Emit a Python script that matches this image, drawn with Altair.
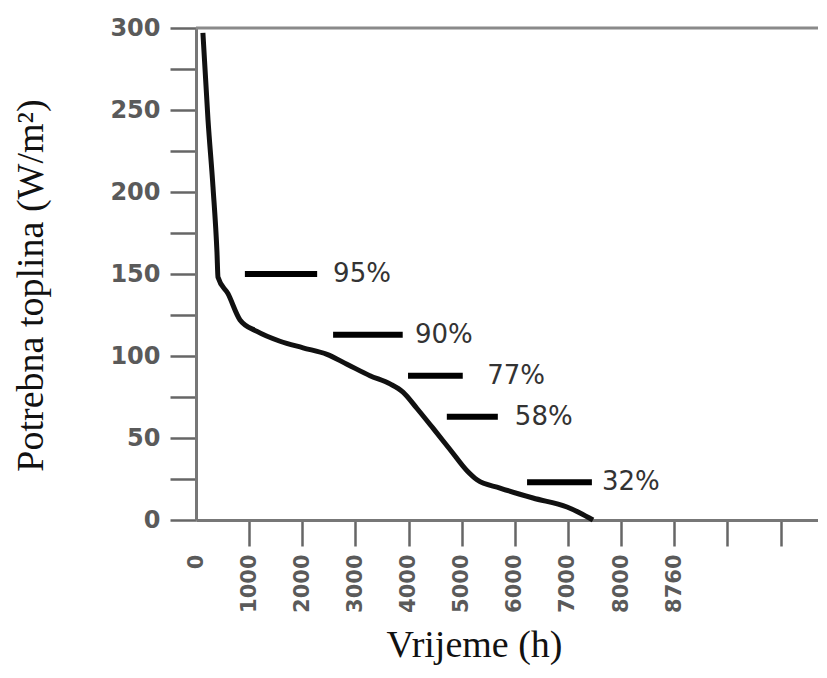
import altair as alt
import pandas as pd

# Load-duration curve (hours vs required heat, W/m2)
hours = [130, 226, 320, 395, 414, 602, 828, 1148, 1581, 2014, 2465, 2841,
         3274, 3651, 3895, 4159, 4460, 4780, 5100, 5288, 5721, 6342, 6982,
         7226, 7471]
heat = [297, 244, 203, 163, 148, 138, 122, 115, 109, 105, 101, 95,
        88, 83, 78, 68, 56, 43, 30, 24.5, 19.5, 13.4, 7.9, 4.3, 0]

# Percentage markers
pct_labels = ["95%", "90%", "77%", "58%", "32%"]
bar_y = [150, 113, 88, 63, 23]
bar_start = [920, 2580, 3990, 4720, 6230]
bar_end = [2280, 3890, 5020, 5680, 7450]
label_x = [2580, 4120, 5480, 6000, 7640]

# Axis ticks
x_ticks = [0, 1000, 2000, 3000, 4000, 5000, 6000, 7000, 8000, 9000, 10000, 11000]
x_tick_labels = ["0", "1000", "2000", "3000", "4000", "5000", "6000", "7000",
                 "8000", "8760", "", ""]
y_ticks = [0, 25, 50, 75, 100, 125, 150, 175, 200, 225, 250, 275, 300]
y_top = 300

W, H = 622, 492
X_MAX = 11705

curve_df = pd.DataFrame({"h": hours, "q": heat})
bars_df = pd.DataFrame({"h": bar_start, "h2": bar_end, "q": bar_y,
                        "lx": label_x, "label": pct_labels})
top_df = pd.DataFrame({"q": [y_top]})

xscale = alt.Scale(domain=[0, X_MAX], nice=False, zero=False)
yscale = alt.Scale(domain=[0, 300], nice=False)

lab_arr = "[" + ",".join("'" + s + "'" for s in x_tick_labels) + "]"
xaxis = alt.Axis(
    values=x_ticks, format="d",
    labelExpr=lab_arr + "[round(datum.value/1000)]",
    labelAngle=270, labelFont="DejaVu Sans", labelFontSize=21,
    labelFontWeight="bold", labelColor="#5a5a5a",
    tickSize=26, tickWidth=2.5,
    tickColor={"condition": {"test": "datum.value === 0", "value": "rgba(0,0,0,0)"},
               "value": "#666666"},
    labelPadding=8, grid=False,
    title="Vrijeme (h)", titleFont="Liberation Serif", titleFontSize=38,
    titleFontWeight="normal", titleColor="#111111",
    titleX=278, titleY=136, titleBaseline="alphabetic", titleAlign="center",
)
yaxis = alt.Axis(
    values=y_ticks,
    labelExpr="datum.value % 50 == 0 ? datum.label : ''",
    labelFont="DejaVu Sans", labelFontSize=24, labelFontWeight="bold",
    labelColor="#5a5a5a", tickSize=26, tickWidth=2.5, tickColor="#666666",
    labelPadding=10, grid=False,
    title="Potrebna toplina (W/m²)", titleFont="Liberation Serif",
    titleFontSize=38, titleFontWeight="normal", titleColor="#111111",
    titleAngle=270, titleX=-146, titleY=257, titleBaseline="bottom",
    titleAlign="center",
)


def X(field):
    return alt.X(field, type="quantitative", scale=xscale, axis=xaxis)


def Y(field):
    return alt.Y(field, type="quantitative", scale=yscale, axis=yaxis)


curve = alt.Chart(curve_df).mark_line(
    color="#111111", strokeWidth=5, interpolate="monotone", strokeJoin="round"
).encode(x=X("h"), y=Y("q"))

bars = alt.Chart(bars_df).mark_rule(color="#000000", strokeWidth=6).encode(
    x=X("h"), x2="h2", y=Y("q")
)

labels = alt.Chart(bars_df).mark_text(
    font="DejaVu Sans", fontSize=26, color="#333333", align="left",
    baseline="middle"
).encode(x=X("lx"), y=Y("q"), text="label")

top_border = alt.Chart(top_df).mark_rule(color="#8a8a8a", strokeWidth=3).encode(
    x=alt.value(0), x2=alt.value(W), y=Y("q")
)

chart = alt.layer(top_border, curve, bars, labels).properties(
    width=W, height=H,
    autosize=alt.AutoSizeParams(type="none"),
    padding={"left": 188, "top": 20, "right": 0, "bottom": 145},
).configure_view(stroke=None).configure_axis(
    domainColor="#777777", domainWidth=3
)

chart.save("out.html", embed_options={"renderer": "svg", "actions": False})
